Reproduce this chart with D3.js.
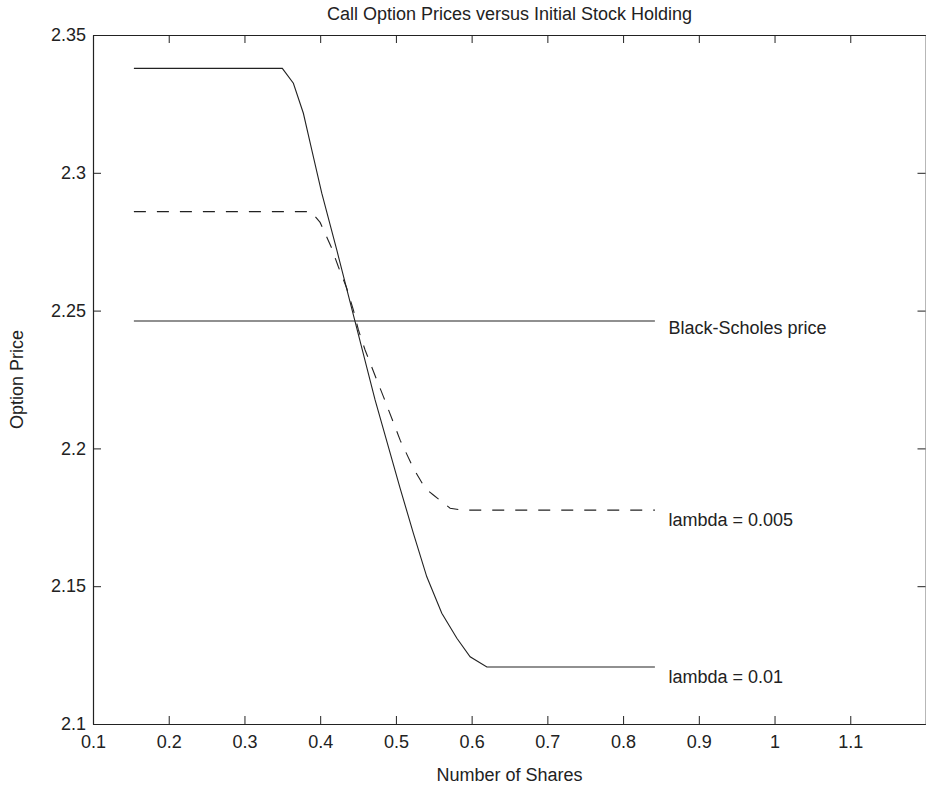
<!DOCTYPE html>
<html>
<head>
<meta charset="utf-8">
<script src="https://cdn.jsdelivr.net/npm/d3@7"></script>
<style>
  body { margin: 0; background: #fff; }
  svg text { font-family: "Liberation Sans", Arial, sans-serif; fill: #222; }
</style>
</head>
<body>
<div id="chart"></div>
<script>
// values
const sharesTight = [0.154, 0.350, 0.3646, 0.3778, 0.3889, 0.4021, 0.4219, 0.4461, 0.4725, 0.5056, 0.5231, 0.5408, 0.5606, 0.5805, 0.5980, 0.6201, 0.842];
const priceTight  = [2.3379, 2.3379, 2.3325, 2.3216, 2.3083, 2.2926, 2.2720, 2.2460, 2.2176, 2.1855, 2.1692, 2.1534, 2.1402, 2.1311, 2.1244, 2.1207, 2.1207];

const sharesLoose = [0.154, 0.388, 0.3999, 0.4144, 0.4240, 0.4351, 0.4439, 0.4505, 0.4593, 0.4748, 0.4835, 0.5056, 0.5231, 0.5386, 0.5495, 0.5716, 0.5871, 0.842];
const priceLoose  = [2.2859, 2.2859, 2.2820, 2.2732, 2.2659, 2.2581, 2.2502, 2.2430, 2.2357, 2.2248, 2.2188, 2.2030, 2.1928, 2.1855, 2.1831, 2.1783, 2.1776, 2.1776];

const sharesBS = [0.154, 0.842];
const priceBS  = [2.2462, 2.2462];

const xTicks = [0.1, 0.2, 0.3, 0.4, 0.5, 0.6, 0.7, 0.8, 0.9, 1.0, 1.1];
const xTickLabels = ["0.1", "0.2", "0.3", "0.4", "0.5", "0.6", "0.7", "0.8", "0.9", "1", "1.1"];
const yTicks = [2.1, 2.15, 2.2, 2.25, 2.3, 2.35];
const yTickLabels = ["2.1", "2.15", "2.2", "2.25", "2.3", "2.35"];

const labelTexts = ["Black-Scholes price", "lambda = 0.005", "lambda = 0.01"];
const labelX = [0.86, 0.86, 0.86];
const labelY = [2.2439, 2.1743, 2.1171];

const margin = {top: 35, right: 0, bottom: 64, left: 93};
const width = 833;
const height = 689;

const svg = d3.select("#chart")
    .append("svg")
    .attr("width", 926)
    .attr("height", 788);

const g = svg.append("g")
    .attr("transform", `translate(${margin.left},${margin.top})`);

const x = d3.scaleLinear().domain([0.1, 1.2]).range([0, width]);
const y = d3.scaleLinear().domain([2.1, 2.35]).range([height, 0]);

const ink = "#222";

// axes, ticks pointing inward on all four sides
const axBottom = g.append("g")
    .attr("transform", `translate(0,${height})`)
    .call(d3.axisBottom(x).tickValues(xTicks)
        .tickFormat((d, i) => xTickLabels[i])
        .tickSize(-8).tickSizeOuter(0).tickPadding(11));

const axTop = g.append("g")
    .call(d3.axisTop(x).tickValues(xTicks).tickFormat("")
        .tickSize(-8).tickSizeOuter(0));

const axLeft = g.append("g")
    .call(d3.axisLeft(y).tickValues(yTicks)
        .tickFormat((d, i) => yTickLabels[i])
        .tickSize(-8).tickSizeOuter(0).tickPadding(7));

const axRight = g.append("g")
    .attr("transform", `translate(${width - 0.5},0)`)
    .call(d3.axisRight(y).tickValues(yTicks).tickFormat("")
        .tickSize(-8).tickSizeOuter(0));

[axBottom, axTop, axLeft, axRight].forEach(a => {
    a.selectAll("path.domain").attr("stroke", ink).attr("stroke-width", 1.2);
    a.selectAll(".tick line").attr("stroke", ink);
    a.selectAll(".tick text")
        .style("font-family", "'Liberation Sans', Arial, sans-serif")
        .style("font-size", "18px")
        .attr("fill", ink);
});
axRight.select("path.domain").attr("stroke", "#888");

const line = d3.line()
    .x(d => x(d[0]))
    .y(d => y(d[1]));

const zip = (a, b) => a.map((v, i) => [v, b[i]]);

g.append("path")
    .datum(zip(sharesTight, priceTight))
    .attr("fill", "none")
    .attr("stroke", ink)
    .attr("stroke-width", 1.1)
    .attr("d", line);

g.append("path")
    .datum(zip(sharesLoose, priceLoose))
    .attr("fill", "none")
    .attr("stroke", ink)
    .attr("stroke-width", 1.1)
    .attr("stroke-dasharray", "12,11")
    .attr("d", line);

g.append("path")
    .datum(zip(sharesBS, priceBS))
    .attr("fill", "none")
    .attr("stroke", ink)
    .attr("stroke-width", 1.1)
    .attr("d", line);

labelTexts.forEach((t, i) => {
    g.append("text")
        .attr("x", x(labelX[i]))
        .attr("y", y(labelY[i]))
        .attr("dy", "0.35em")
        .style("font-size", "18px")
        .text(t);
});

// title and axis labels
svg.append("text")
    .attr("x", margin.left + width / 2)
    .attr("y", 20)
    .attr("text-anchor", "middle")
    .style("font-size", "18px")
    .text("Call Option Prices versus Initial Stock Holding");

svg.append("text")
    .attr("x", margin.left + width / 2)
    .attr("y", 781)
    .attr("text-anchor", "middle")
    .style("font-size", "18px")
    .text("Number of Shares");

svg.append("text")
    .attr("transform", `translate(23,${margin.top + height / 2}) rotate(-90)`)
    .attr("text-anchor", "middle")
    .style("font-size", "18px")
    .text("Option Price");
</script>
</body>
</html>
